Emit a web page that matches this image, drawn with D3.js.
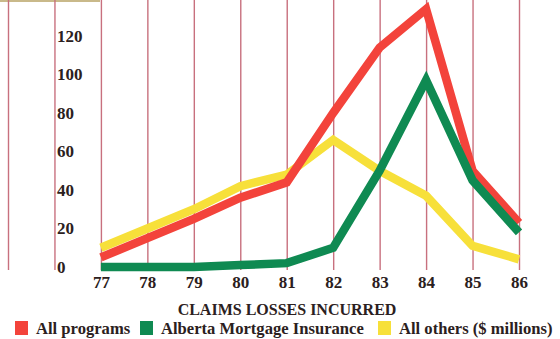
<!DOCTYPE html>
<html>
<head>
<meta charset="utf-8">
<script src="https://cdn.jsdelivr.net/npm/d3@7"></script>
<style>
  body { margin: 0; background: #fff; }
  svg { display: block; }
  .lbl { font-family: "Liberation Serif", serif; font-weight: bold; fill: #2b2020; }
</style>
</head>
<body>
<div id="chart"></div>
<script>
// years on the x axis, grid runs from 75 so the first two lines sit left of the data
const years = [77, 78, 79, 80, 81, 82, 83, 84, 85, 86];
const gridYears = [75, 76, 77, 78, 79, 80, 81, 82, 83, 84, 85, 86];
const yTicks = [0, 20, 40, 60, 80, 100, 120];

const allPrograms = [5, 15, 25, 36, 44, 80, 114, 134, 50, 23];
const albertaMortgage = [0, 0, 0, 1, 2, 10, 50, 97, 45, 18];
const allOthers = [10, 20, 30, 42, 48, 66, 50, 37, 11, 4];

const legendNames = ["All programs", "Alberta Mortgage Insurance", "All others ($ millions)"];
const colors = { red: "#f3433b", green: "#0f8a52", yellow: "#f7e03a" };

const width = 560, height = 339;

const svg = d3.select("#chart").append("svg")
  .attr("width", width)
  .attr("height", height);

const x = d3.scaleLinear().domain([75, 86]).range([8, 519]);
const y = d3.scaleLinear().domain([0, 120]).range([267, 36]);

// thin tan strip at the top edge
svg.append("rect").attr("x", 0).attr("y", 0).attr("width", 100).attr("height", 2).attr("fill", "#c9b98a");

// vertical grid lines
const grid = svg.append("g")
  .attr("transform", "translate(0,270)")
  .call(d3.axisBottom(x).tickValues(gridYears).tickSize(-270).tickFormat(""));
grid.select(".domain").remove();
grid.selectAll(".tick line").attr("stroke", "#c8707e").attr("stroke-width", 1.4);

// y labels, left aligned
const yAxis = svg.append("g")
  .attr("transform", "translate(57,0)")
  .call(d3.axisRight(y).tickValues(yTicks).tickSize(0).tickPadding(0));
yAxis.select(".domain").remove();
yAxis.selectAll("text").attr("class", "lbl").attr("font-size", 17).attr("dy", "0.32em");

// x labels
const xAxis = svg.append("g")
  .attr("transform", "translate(0,276)")
  .call(d3.axisBottom(x).tickValues(years).tickSize(0).tickPadding(0));
xAxis.select(".domain").remove();
xAxis.selectAll("text").attr("class", "lbl").attr("font-size", 17).attr("dy", "0.71em");

const line = d3.line()
  .x((d, i) => x(years[i]))
  .y(d => y(d));

[[allOthers, colors.yellow], [allPrograms, colors.red], [albertaMortgage, colors.green]].forEach(([vals, c]) => {
  svg.append("path")
    .datum(vals)
    .attr("d", line)
    .attr("fill", "none")
    .attr("stroke", c)
    .attr("stroke-width", 8.5)
    .attr("stroke-linejoin", "miter");
});

svg.append("text")
  .attr("class", "lbl")
  .attr("x", 287).attr("y", 315)
  .attr("text-anchor", "middle")
  .attr("font-size", 16)
  .text("CLAIMS LOSSES INCURRED");

// legend
const legendX = [15, 140, 378];
const legendColors = [colors.red, colors.green, colors.yellow];
const lg = svg.append("g");
legendNames.forEach((name, i) => {
  lg.append("rect")
    .attr("x", legendX[i]).attr("y", 321)
    .attr("width", 13).attr("height", 14)
    .attr("fill", legendColors[i]);
  lg.append("text")
    .attr("class", "lbl")
    .attr("x", legendX[i] + 21).attr("y", 334)
    .attr("font-size", 16.6)
    .text(name);
});
</script>
</body>
</html>
